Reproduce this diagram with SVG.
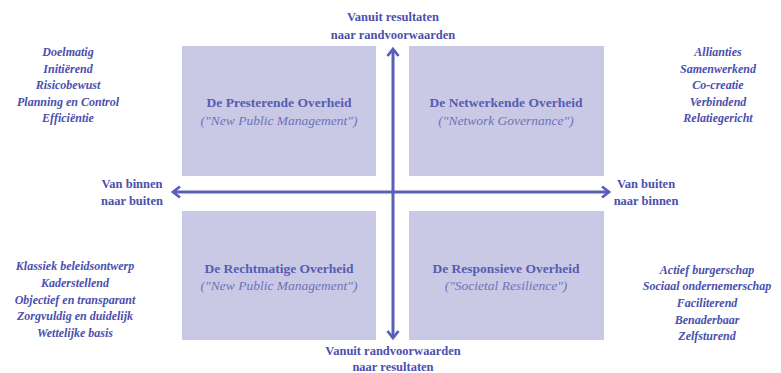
<svg xmlns="http://www.w3.org/2000/svg" width="781" height="373" viewBox="0 0 781 373">
<defs>
<style>
.box{fill:#C9C9E5}
.t{font-family:"Liberation Serif",serif;fill:#4A50AE;text-anchor:middle}
.h{font-size:13.5px;font-weight:bold;fill:#575DB2}
.s{font-size:13.5px;font-style:italic;fill:#6D72BB}
.ax{font-size:12.5px;font-weight:bold}
.li{font-size:12px;font-weight:bold;font-style:italic}
.ln{stroke:#5A60B8;stroke-width:3;fill:none}
</style>
<marker id="ah" viewBox="0 0 14 14" refX="11" refY="7" markerWidth="14" markerHeight="14" markerUnits="userSpaceOnUse" orient="auto-start-reverse">
<path d="M4,1.5 L11,7 L4,12.5" fill="none" stroke="#5A60B8" stroke-width="2.8"/>
</marker>
</defs>
<rect width="781" height="373" fill="#fff"/>
<g id="q-presterende">
<rect class="box" x="182" y="46" width="194" height="130"/>
<text class="t h" x="279" y="107">De Presterende Overheid</text>
<text class="t s" x="279" y="125">("New Public Management")</text>
</g>
<g id="q-netwerkende">
<rect class="box" x="409" y="46" width="195" height="130"/>
<text class="t h" x="506" y="107">De Netwerkende Overheid</text>
<text class="t s" x="506" y="125">("Network Governance")</text>
</g>
<g id="q-rechtmatige">
<rect class="box" x="182" y="211" width="194" height="129"/>
<text class="t h" x="279" y="273">De Rechtmatige Overheid</text>
<text class="t s" x="279" y="290">("New Public Management")</text>
</g>
<g id="q-responsieve">
<rect class="box" x="409" y="211" width="195" height="129"/>
<text class="t h" x="506" y="273">De Responsieve Overheid</text>
<text class="t s" x="506" y="290">("Societal Resilience")</text>
</g>
<g id="connectors">
<line class="ln" x1="393" y1="338" x2="393" y2="49" marker-start="url(#ah)" marker-end="url(#ah)"/>
<line class="ln" x1="173" y1="192" x2="609" y2="192" marker-start="url(#ah)" marker-end="url(#ah)"/>
</g>
<g id="label-top">
<text class="t ax" x="393" y="21">Vanuit resultaten</text>
<text class="t ax" x="393" y="39">naar randvoorwaarden</text>
</g>
<g id="label-bottom">
<text class="t ax" x="393" y="355">Vanuit randvoorwaarden</text>
<text class="t ax" x="393" y="371">naar resultaten</text>
</g>
<g id="label-left">
<text class="t ax" x="132" y="188">Van binnen</text>
<text class="t ax" x="132" y="205">naar buiten</text>
</g>
<g id="label-right">
<text class="t ax" x="646" y="188">Van buiten</text>
<text class="t ax" x="646" y="205">naar binnen</text>
</g>
<g id="list-tl">
<text class="t li" x="68" y="56">Doelmatig</text>
<text class="t li" x="68" y="73">Initiërend</text>
<text class="t li" x="68" y="89">Risicobewust</text>
<text class="t li" x="68" y="106">Planning en Control</text>
<text class="t li" x="68" y="122">Efficiëntie</text>
</g>
<g id="list-tr">
<text class="t li" x="718" y="56">Allianties</text>
<text class="t li" x="718" y="73">Samenwerkend</text>
<text class="t li" x="718" y="89">Co-creatie</text>
<text class="t li" x="718" y="106">Verbindend</text>
<text class="t li" x="718" y="122">Relatiegericht</text>
</g>
<g id="list-bl">
<text class="t li" x="75" y="270">Klassiek beleidsontwerp</text>
<text class="t li" x="75" y="287">Kaderstellend</text>
<text class="t li" x="75" y="304">Objectief en transparant</text>
<text class="t li" x="75" y="320">Zorgvuldig en duidelijk</text>
<text class="t li" x="75" y="337">Wettelijke basis</text>
</g>
<g id="list-br">
<text class="t li" x="707" y="274">Actief burgerschap</text>
<text class="t li" x="707" y="290">Sociaal ondernemerschap</text>
<text class="t li" x="707" y="307">Faciliterend</text>
<text class="t li" x="707" y="324">Benaderbaar</text>
<text class="t li" x="707" y="340">Zelfsturend</text>
</g>
</svg>
